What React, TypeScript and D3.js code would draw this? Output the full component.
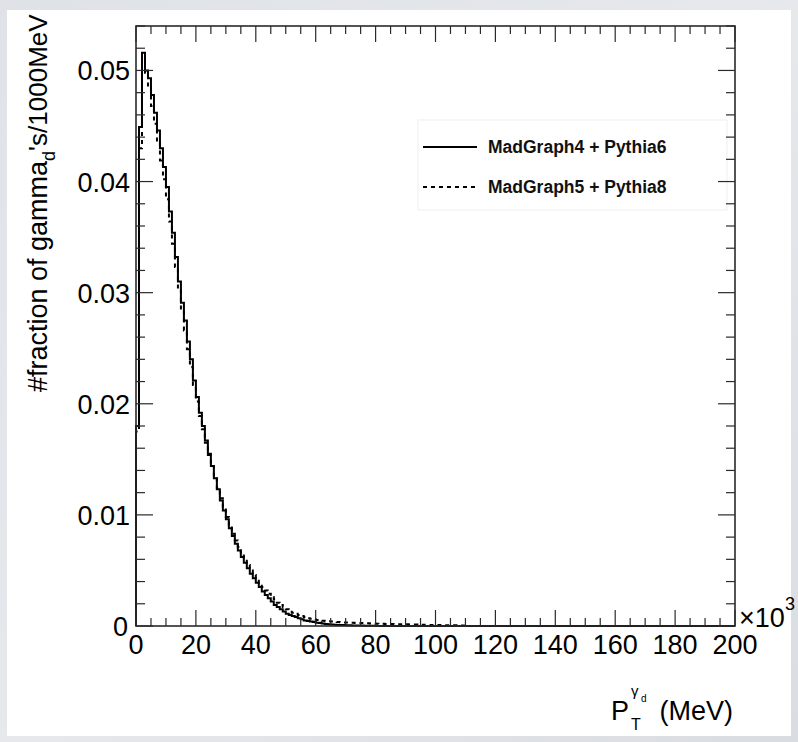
import React from "react";
import * as d3 from "d3";

// ---- data (fraction of gamma_d per 1000 MeV bin, bins start at 0 x10^3 MeV) ----
const mg4Pythia6 = [
  0.0180, 0.0449, 0.0516, 0.0500, 0.0493, 0.0478, 0.0462, 0.0446, 0.0430, 0.0413,
  0.0395, 0.0373, 0.0354, 0.0332, 0.0310, 0.0291, 0.0275, 0.0256, 0.0240, 0.0221,
  0.0206, 0.0192, 0.0180, 0.0167, 0.0155, 0.0144, 0.0133, 0.0123, 0.0113, 0.0104,
  0.0096, 0.0088, 0.0081, 0.0074, 0.0068, 0.0062, 0.0057, 0.0052, 0.0047, 0.0043,
  0.0039, 0.0035, 0.0031, 0.0028, 0.0025, 0.0022, 0.0019, 0.0017, 0.0015, 0.0013,
  0.0011, 0.0010, 0.0009, 0.0008, 0.0007, 0.0006, 0.0005, 0.00045, 0.0004, 0.00035,
  0.0003, 0.00026, 0.00022, 0.00019, 0.00016, 0.00014, 0.00012, 0.0001, 0.00009, 0.00008,
  0.00007, 0.00006, 0.00005, 0.00005, 0.00004, 0.00004, 0.00003, 0.00003, 0.00002, 0.00002,
  0.00001,
];
const mg5Pythia8 = [
  0.0175, 0.0430, 0.0502, 0.0498, 0.0484, 0.0468, 0.0452, 0.0436, 0.0419, 0.0402,
  0.0384, 0.0364, 0.0344, 0.0323, 0.0303, 0.0284, 0.0266, 0.0249, 0.0233, 0.0217,
  0.0202, 0.0189, 0.0177, 0.0165, 0.0154, 0.0144, 0.0134, 0.0124, 0.0115, 0.0106,
  0.0098, 0.0090, 0.0083, 0.0077, 0.0071, 0.0065, 0.0060, 0.0055, 0.0050, 0.0046,
  0.0042, 0.0038, 0.0035, 0.0032, 0.0029, 0.0026, 0.0024, 0.0021, 0.0019, 0.0017,
  0.0015, 0.0014, 0.0012, 0.0011, 0.0010, 0.0009, 0.0008, 0.0007, 0.00065, 0.0006,
  0.00055, 0.0005, 0.00047, 0.00044, 0.00042, 0.0004, 0.00038, 0.00036, 0.00034, 0.00032,
  0.00031, 0.0003, 0.00029, 0.00028, 0.00027, 0.00026, 0.00025, 0.00024, 0.00023, 0.00022,
  0.00021, 0.0002, 0.0002, 0.00019, 0.00018, 0.00018, 0.00017, 0.00016, 0.00016, 0.00015,
  0.00015, 0.00014, 0.00013, 0.00013, 0.00012, 0.00012, 0.00011, 0.0001, 0.0001, 0.00009,
  0.00009, 0.00008, 0.00008, 0.00007, 0.00007, 0.00006, 0.00006, 0.00005, 0.00005, 0.00004,
  0.00004,
];
const seriesNames = ["MadGraph4 + Pythia6", "MadGraph5 + Pythia8"];
const xMajorTicks = [0, 20, 40, 60, 80, 100, 120, 140, 160, 180, 200];
const yMajorTicks = [0, 0.01, 0.02, 0.03, 0.04, 0.05];
const yTickLabels = ["0", "0.01", "0.02", "0.03", "0.04", "0.05"];

const W = 798;
const H = 742;
const FONT = "'Liberation Sans', Arial, Helvetica, sans-serif";

export default function App() {
  const x = d3.scaleLinear().domain([0, 200]).range([136, 735]);
  const y = d3.scaleLinear().domain([0, 0.054]).range([626, 26]);

  const xMinor = d3.range(0, 200.001, 5);
  const yMinor = d3.range(0, 0.0541, 0.002);

  const histPath = (vals: number[]) => {
    const pts: [number, number][] = [[0, 0]];
    vals.forEach((v, i) => pts.push([i, v]));
    pts.push([vals.length, 0]);
    pts.push([200, 0]);
    return d3
      .line<[number, number]>()
      .x((d) => x(d[0]))
      .y((d) => y(d[1]))
      .curve(d3.curveStepAfter)(pts) as string;
  };

  const frameColor = "#2a2a2a";
  const [x0, x1] = x.range();
  const [yb, yt] = y.range();

  return (
    <svg
      width={W}
      height={H}
      style={{ position: "absolute", left: 0, top: 0, display: "block" }}
    >
      <defs>
        <linearGradient id="bg" x1="0" y1="0" x2="1" y2="1">
          <stop offset="0" stopColor="#dfe2e7" />
          <stop offset="0.5" stopColor="#e6e8ec" />
          <stop offset="1" stopColor="#d9dce1" />
        </linearGradient>
      </defs>
      <rect x={0} y={0} width={W} height={H} fill="url(#bg)" />
      <rect x={7} y={10} width={784} height={726} fill="#ffffff" />

      {/* legend */}
      <rect x={418} y={120} width={309} height={90} fill="#fff" stroke="#efefef" strokeWidth={1} />
      <line x1={423} x2={477} y1={147} y2={147} stroke="#000" strokeWidth={2} />
      <line x1={423} x2={477} y1={187} y2={187} stroke="#000" strokeWidth={2} strokeDasharray="4 4" />
      <text x={488} y={153} fontFamily={FONT} fontWeight="bold" fontSize={17.5} fill="#111">
        {seriesNames[0]}
      </text>
      <text x={488} y={193} fontFamily={FONT} fontWeight="bold" fontSize={17.5} fill="#111">
        {seriesNames[1]}
      </text>

      {/* histograms */}
      <path d={histPath(mg5Pythia8)} fill="none" stroke="#000" strokeWidth={2} strokeDasharray="4 4" />
      <path d={histPath(mg4Pythia6)} fill="none" stroke="#000" strokeWidth={2} />

      {/* frame */}
      <rect x={x0} y={yt} width={x1 - x0} height={yb - yt} fill="none" stroke={frameColor} strokeWidth={1.6} />

      {/* x ticks bottom and top */}
      {xMinor.map((v) => {
        const major = v % 20 === 0;
        const len = major ? 16 : 8;
        return (
          <g key={"xt" + v} stroke={frameColor} strokeWidth={1.2}>
            <line x1={x(v)} x2={x(v)} y1={yb} y2={yb - len} />
            <line x1={x(v)} x2={x(v)} y1={yt} y2={yt + len} />
          </g>
        );
      })}
      {/* y ticks left and right */}
      {yMinor.map((v, i) => {
        const major = i % 5 === 0;
        const len = major ? 17 : 9;
        return (
          <g key={"yt" + i} stroke={frameColor} strokeWidth={1.2}>
            <line x1={x0} x2={x0 + len} y1={y(v)} y2={y(v)} />
            <line x1={x1} x2={x1 - len} y1={y(v)} y2={y(v)} />
          </g>
        );
      })}

      {/* x tick labels */}
      {xMajorTicks.map((v) => (
        <text
          key={"xl" + v}
          x={x(v)}
          y={654}
          textAnchor="middle"
          fontFamily={FONT}
          fontSize={27}
          fill="#000"
        >
          {String(v)}
        </text>
      ))}
      {/* x10^3 */}
      <text x={739} y={627} fontFamily={FONT} fontSize={27} fill="#000">
        ×10
      </text>
      <text x={785} y={610} fontFamily={FONT} fontSize={18} fill="#000">
        3
      </text>

      {/* y tick labels */}
      {yMajorTicks.map((v, i) => (
        <text
          key={"yl" + i}
          x={v === 0 ? 128 : 130}
          y={y(v) + 10}
          textAnchor="end"
          fontFamily={FONT}
          fontSize={27}
          fill="#000"
        >
          {yTickLabels[i]}
        </text>
      ))}

      {/* x title */}
      <g fontFamily={FONT} fill="#000">
        <text x={611} y={720} fontSize={27}>P</text>
        <text x={631} y={730} fontSize={16}>T</text>
        <text x={631} y={696} fontSize={15}>γ</text>
        <text x={641} y={702} fontSize={10}>d</text>
        <text x={733} y={720} fontSize={27} textAnchor="end">(MeV)</text>
      </g>

      {/* y title */}
      <g transform="translate(47,392) rotate(-90)" fontFamily={FONT} fill="#000">
        <text x={0} y={0} fontSize={27}>
          #fraction of gamma
          <tspan fontSize={18} dy={8}>d</tspan>
          <tspan fontSize={26} dy={-8}>'s/1000MeV</tspan>
        </text>
      </g>
    </svg>
  );
}
